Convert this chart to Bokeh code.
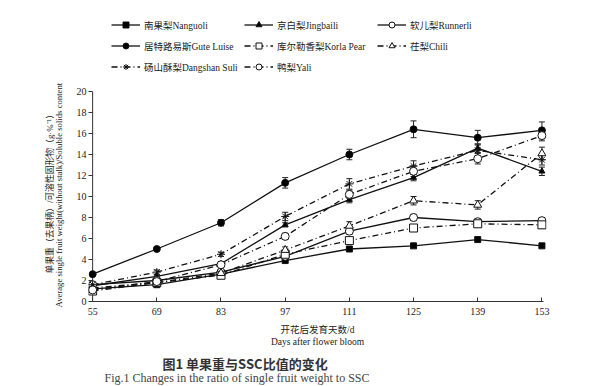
from bokeh.plotting import figure
from bokeh.models import (Range1d, FixedTicker, Legend, LegendItem, Title,
                          Whisker, TeeHead, ColumnDataSource)
from bokeh.embed import file_html
from bokeh.resources import INLINE

# ---------------- data ----------------
days = [55, 69, 83, 97, 111, 125, 139, 153]
y_ticks = [0, 2, 4, 6, 8, 10, 12, 14, 16, 18, 20]

nanguoli = [1.2, 1.6, 2.6, 3.9, 5.0, 5.3, 5.9, 5.3]
jingbaili = [1.5, 2.4, 3.6, 7.3, 9.7, 11.8, 14.6, 12.4]
runnerli = [1.6, 2.0, 2.8, 4.3, 6.7, 8.0, 7.6, 7.7]
gute_luise = [2.6, 5.0, 7.5, 11.3, 14.0, 16.4, 15.6, 16.3]
korla_pear = [1.0, 1.8, 2.5, 4.5, 5.8, 7.0, 7.4, 7.3]
chili = [1.3, 1.8, 2.7, 4.9, 7.2, 9.6, 9.2, 14.1]
dangshan_suli = [1.6, 2.8, 4.5, 8.1, 11.2, 12.9, 14.4, 13.5]
yali = [1.1, 1.9, 3.5, 6.2, 10.2, 12.4, 13.6, 15.8]

err_nanguoli = [0.1, 0.1, 0.1, 0.1, 0.1, 0.1, 0.1, 0.1]
err_jingbaili = [0.1, 0.1, 0.2, 0.2, 0.3, 0.3, 0.4, 0.4]
err_runnerli = [0.1, 0.1, 0.1, 0.2, 0.3, 0.3, 0.3, 0.3]
err_gute_luise = [0.1, 0.1, 0.3, 0.5, 0.5, 0.8, 0.7, 0.8]
err_korla_pear = [0.3, 0.2, 0.2, 0.3, 0.3, 0.3, 0.3, 0.3]
err_chili = [0.1, 0.1, 0.2, 0.3, 0.4, 0.4, 0.4, 0.6]
err_dangshan_suli = [0.1, 0.2, 0.2, 0.4, 0.5, 0.5, 0.6, 0.5]
err_yali = [0.2, 0.1, 0.2, 0.3, 0.4, 0.5, 0.5, 0.5]

labels = ["南果梨Nanguoli", "京白梨Jingbaili", "软儿梨Runnerli",
          "居特路易斯Gute Luise", "库尔勒香梨Korla Pear", "茌梨Chili",
          "砀山酥梨Dangshan Suli", "鸭梨Yali"]

x_title_cn = "开花后发育天数/d"
x_title_en = "Days after flower bloom"
y_title_cn = "单果重（去果柄）/可溶性固形物（g·%⁻¹）"
y_title_en = "Average single fruit weight(without stalk)/Soluble solids content"
caption_cn = "图1    单果重与SSC比值的变化"
caption_en = "Fig.1   Changes in the ratio of single fruit weight to SSC"

# ---------------- style ----------------
SERIF = "Liberation Serif, Noto Sans CJK SC"
DASHDOT = "6 3 1 3"
INK = "#222222"
series = [
    (nanguoli, err_nanguoli, "square", "black", "solid", 6),
    (jingbaili, err_jingbaili, "triangle", "black", "solid", 6),
    (runnerli, err_runnerli, "circle", "white", "solid", 8),
    (gute_luise, err_gute_luise, "circle", "black", "solid", 7),
    (korla_pear, err_korla_pear, "square", "white", DASHDOT, 8),
    (chili, err_chili, "triangle", "white", DASHDOT, 8),
    (dangshan_suli, err_dangshan_suli, "asterisk", "white", DASHDOT, 8),
    (yali, err_yali, "circle", "white", DASHDOT, 8),
]

W, H = 607, 385
BL, BT, FW, FH = 88, 0, 458, 301
Y_TOP = y_ticks[-1] * FH / 210.0   # frame extends above the axis to hold the legend

p = figure(width=W, height=H, output_backend="svg", toolbar_location=None,
           x_range=Range1d(54.1, 154.0), y_range=Range1d(0, Y_TOP),
           min_border_left=BL, min_border_right=W - BL - FW,
           min_border_top=BT, min_border_bottom=H - BT - FH)
p.outline_line_color = None
p.grid.visible = False
p.background_fill_color = "white"
p.border_fill_color = "white"

# axes
p.xaxis.ticker = FixedTicker(ticks=days)
p.yaxis.ticker = FixedTicker(ticks=y_ticks)
p.xaxis.bounds = (days[0], 153.4)
p.yaxis.bounds = (y_ticks[0], y_ticks[-1])
for ax in (p.xaxis[0], p.yaxis[0]):
    ax.axis_line_color = "#333333"
    ax.axis_line_width = 1
    ax.major_tick_line_color = "#333333"
    ax.minor_tick_line_color = None
    ax.major_label_text_font = SERIF
    ax.major_label_text_font_size = "10px"
    ax.major_label_text_color = INK
    ax.axis_label_text_font = SERIF
    ax.axis_label_text_font_style = "normal"
    ax.axis_label_text_color = INK
p.xaxis.major_tick_in = 4
p.xaxis.major_tick_out = 0
p.xaxis.major_label_standoff = 6
# y axis: its line is drawn at day 55; ticks run from the frame edge to it
p.yaxis.axis_line_color = None
p.yaxis.major_tick_in = 4
p.yaxis.major_tick_out = 0
p.yaxis.major_label_standoff = 2
p.segment(x0=[days[0]], y0=[y_ticks[0]], x1=[days[0]], y1=[y_ticks[-1]],
          line_color="#333333", line_width=1)

p.xaxis.axis_label = x_title_cn + "\n" + x_title_en
p.xaxis.axis_label_text_font_size = "9.5px"
p.xaxis.axis_label_text_line_height = 1.2
p.xaxis.axis_label_standoff = 7

# blank y axis label only keeps a gap between tick labels and the titles
p.yaxis.axis_label = " "
p.yaxis.axis_label_text_font_size = "1px"
p.yaxis.axis_label_standoff = 6

# two-line y title, each line starting near the bottom of the axis
p.add_layout(Title(text=y_title_en, align="left", offset=-6, text_font=SERIF,
                   text_font_size="8.7px", text_font_style="normal",
                   text_color=INK, standoff=0), "left")
p.add_layout(Title(text=y_title_cn, align="left", offset=28, text_font=SERIF,
                   text_font_size="8.8px", text_font_style="normal",
                   text_color=INK, standoff=-6), "left")

p.add_layout(Title(text=caption_cn, align="left", offset=74,
                   text_font="Noto Sans CJK SC", text_font_size="13px",
                   text_font_style="bold", text_color="#333333", standoff=5),
             "below")
# English caption: sits at the very bottom edge, cut off as in the source
p.add_layout(Title(text=caption_en, align="left", offset=16,
                   text_font="Liberation Serif", text_font_size="12px",
                   text_font_style="normal", text_color="#444444", standoff=-14),
             "below")

# error bars
ex, ey_up, ey_lo = [], [], []
for vals, errs, *_ in series:
    for d, v, e in zip(days, vals, errs):
        ex.append(d)
        ey_up.append(v + e)
        ey_lo.append(v - e)
wsrc = ColumnDataSource(dict(x=ex, upper=ey_up, lower=ey_lo))
p.add_layout(Whisker(source=wsrc, base="x", upper="upper", lower="lower",
                     line_color=INK, line_width=1,
                     upper_head=TeeHead(size=6, line_color=INK, line_width=1),
                     lower_head=TeeHead(size=6, line_color=INK, line_width=1)))

# lines and markers
line_rs, sc_rs = [], []
for vals, errs, marker, fill, dash, size in series:
    line_rs.append(p.line(days, vals, line_color="#111111", line_width=1.3,
                          line_dash=dash))
for vals, errs, marker, fill, dash, size in series:
    sc_rs.append(p.scatter(days, vals, marker=marker, size=size, fill_color=fill,
                           line_color="#111111", line_width=1))

# legend: 3 columns x 3 rows, in the top strip of the frame
items = [LegendItem(label=t, renderers=[line_rs[i], sc_rs[i]])
         for i, t in enumerate(labels)]
leg = Legend(items=items, orientation="horizontal", ncols=3,
             location=(23, 227),
             glyph_width=29, glyph_height=15, label_height=15, label_width=94,
             label_standoff=4, padding=0, margin=0, spacing=6,
             border_line_color=None, background_fill_alpha=0,
             label_text_font=SERIF, label_text_font_size="9.5px",
             label_text_color=INK)
p.add_layout(leg)

open("out.html", "w").write(file_html(p, INLINE))
